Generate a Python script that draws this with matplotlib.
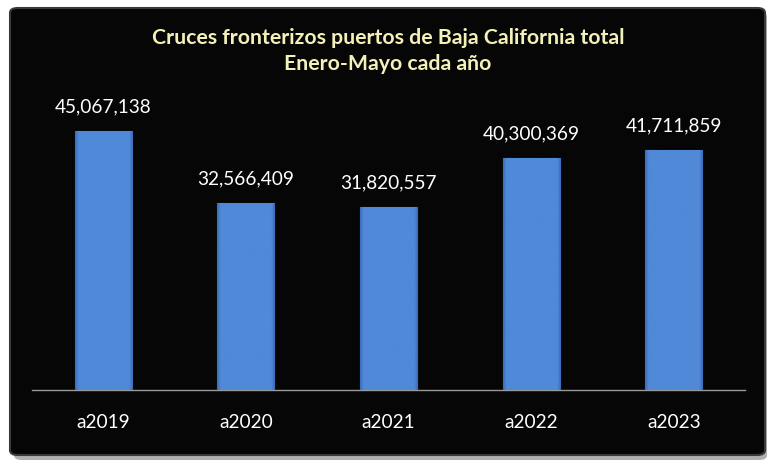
import matplotlib.pyplot as plt
import numpy as np
from matplotlib.patches import FancyBboxPatch

categories = ['a2019', 'a2020', 'a2021', 'a2022', 'a2023']
crossings = [45067138, 32566409, 31820557, 40300369, 41711859]
title = 'Cruces fronterizos puertos de Baja California total\nEnero-Mayo cada año'

W, H = 777, 470
fig = plt.figure(figsize=(W / 100, H / 100), dpi=100)
fig.patch.set_facecolor('white')
plt.rcParams['font.family'] = ['Lato', 'DejaVu Sans']

# shadow + black panel with rounded corners
shadow = FancyBboxPatch((14 / W, 1 - 460 / H), 753 / W, 448 / H,
                        boxstyle='round,pad=0,rounding_size=0.01',
                        transform=fig.transFigure, facecolor='#b0b0b0',
                        edgecolor='none', zorder=0)
panel = FancyBboxPatch((10 / W, 1 - 455 / H), 755 / W, 447 / H,
                       boxstyle='round,pad=0,rounding_size=0.01',
                       transform=fig.transFigure, facecolor='#060606',
                       edgecolor='#3a3a3a', linewidth=1.5, zorder=1)
fig.patches.extend([shadow, panel])

ax = fig.add_axes([32 / W, 80 / H, 713 / W, 290 / H])
ax.set_facecolor('none')
ax.set_zorder(2)

x = np.arange(len(categories))
bars = ax.bar(x, crossings, width=0.4, color='#4d84d5', edgecolor='#3466b0',
              linewidth=0.8, zorder=3)

# soft horizontal shading on each bar
grad = np.linspace(0, 1, 256)
grad = np.clip(1 - np.abs(grad - 0.5) * 2, 0, 0.12) / 0.12
grad = np.vstack([grad, grad])
cmap = plt.matplotlib.colors.LinearSegmentedColormap.from_list(
    'bar', ['#3a6bb8', '#5089d8'])
for b in bars:
    x0, y0 = b.get_x(), b.get_y()
    im = ax.imshow(grad, cmap=cmap, vmin=0, vmax=1, aspect='auto',
                   extent=[x0, x0 + b.get_width(), y0, y0 + b.get_height()],
                   zorder=3.5)
    im.set_clip_path(b)

ax.set_xlim(-0.5, len(categories) - 0.5)
ax.set_ylim(0, 50.4e6)

for xi, v in zip(x, crossings):
    ax.annotate(f'{v:,}', (xi, v), xytext=(0, 11), textcoords='offset points',
                ha='center', va='bottom', color='white', fontsize=13.7)

ax.set_xticks(x)
ax.set_xticklabels(categories, color='white', fontsize=13.7)
ax.tick_params(axis='x', length=0, pad=17)
ax.set_yticks([])
for s in ['top', 'right', 'left']:
    ax.spines[s].set_visible(False)
ax.spines['bottom'].set_color('#9a9a9a')
ax.spines['bottom'].set_linewidth(1)

fig.text(388 / W, 1 - 51 / H, title, ha='center', va='center',
         color='#f4f1b8', fontsize=15.3, fontweight='bold', linespacing=1.35)

fig.savefig('out.png', dpi=100, facecolor=fig.get_facecolor())
